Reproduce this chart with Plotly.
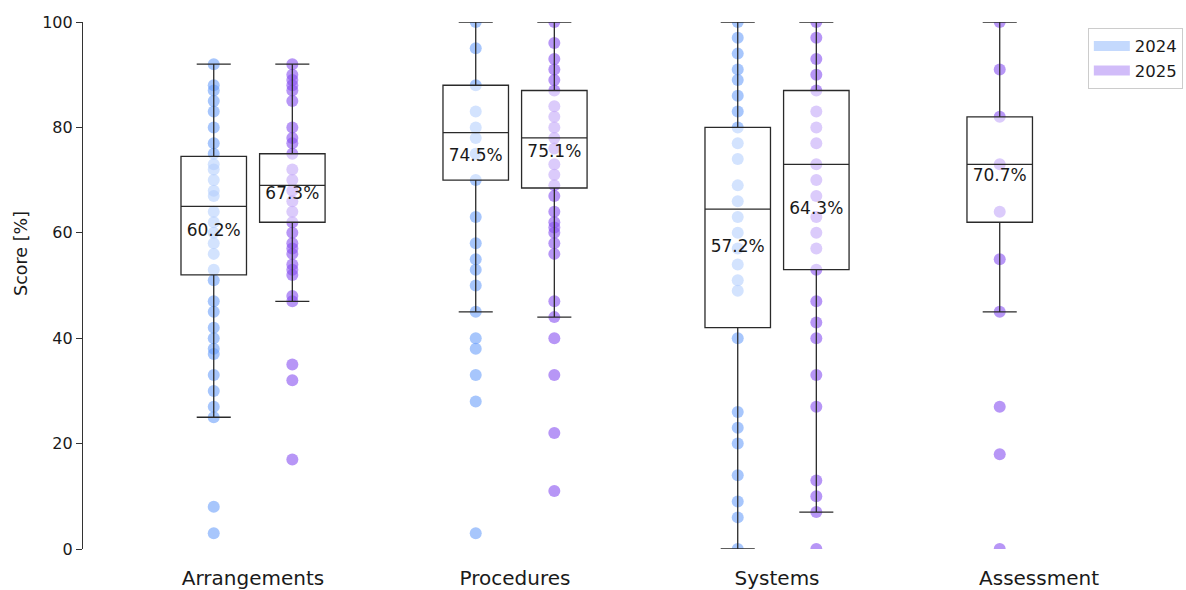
import plotly.graph_objects as go

# ---------------- data ----------------
categories = ["Arrangements", "Procedures", "Systems", "Assessment"]
years = ["2024", "2025"]

arrangements_2024 = [92, 88, 87, 85, 83, 80, 77, 75, 73, 72, 70, 68, 67, 64, 62, 60, 58, 56,
                     53, 51, 47, 45, 42, 40, 38, 37, 33, 30, 27, 25, 8, 3]
arrangements_2025 = [92, 90, 89, 88, 87, 85, 80, 78, 77, 75, 72, 70, 68, 66, 64, 62, 60, 58,
                     57, 56, 54, 53, 52, 48, 47, 35, 32, 17]
procedures_2024 = [100, 95, 88, 83, 80, 78, 75, 70, 63, 58, 55, 53, 50, 45, 40, 38, 33, 28, 3]
procedures_2025 = [100, 96, 93, 91, 89, 87, 84, 82, 80, 78, 76, 73, 71, 69, 67, 64, 62, 61,
                   60, 58, 56, 47, 44, 40, 33, 22, 11]
systems_2024 = [100, 97, 94, 91, 89, 86, 83, 80, 77, 74, 69, 66, 63, 60, 57, 54, 51, 49,
                40, 26, 23, 20, 14, 9, 6, 0]
systems_2025 = [100, 97, 93, 90, 87, 83, 80, 77, 73, 70, 67, 63, 60, 57, 53, 47, 43, 40,
                33, 27, 13, 10, 7, 0]
assessment_2025 = [100, 91, 82, 73, 64, 55, 45, 27, 18, 0]

# series order: A24, A25, P24, P25, S24, S25, As25
series_values = [arrangements_2024, arrangements_2025, procedures_2024, procedures_2025,
                 systems_2024, systems_2025, assessment_2025]
series_year = ["2024", "2025", "2024", "2025", "2024", "2025", "2025"]
series_category = [0, 0, 1, 1, 2, 2, 3]
series_slot = [-1, 1, -1, 1, -1, 1, -1]

# box statistics
lower_whisker = [25, 47, 45, 44, 0, 7, 45]
q1_values = [52, 62, 70, 68.5, 42, 53, 62]
median_values = [65, 69, 79, 78, 64.5, 73, 73]
q3_values = [74.5, 75, 88, 87, 80, 87, 82]
upper_whisker = [92, 92, 100, 100, 100, 100, 100]
mean_values = [60.2, 67.3, 74.5, 75.1, 57.2, 64.3, 70.7]

# ---------------- styling ----------------
point_color = {"2024": "rgba(100,155,250,0.57)", "2025": "rgba(135,80,240,0.6)"}
legend_color = {"2024": "rgba(100,155,250,0.38)", "2025": "rgba(135,80,240,0.38)"}
slot_offset = 0.15
box_width = 0.25
FONT = "DejaVu Sans"

positions = [c + s * slot_offset for c, s in zip(series_category, series_slot)]

fig = go.Figure()

for pos, vals, yr, lo, q1, med, q3, hi in zip(positions, series_values, series_year,
                                             lower_whisker, q1_values, median_values,
                                             q3_values, upper_whisker):
    # points (drawn first, under the box)
    fig.add_trace(go.Box(
        x=[pos] * len(vals), y=vals,
        boxpoints="all", jitter=0, pointpos=0,
        fillcolor="rgba(0,0,0,0)",
        line=dict(width=0, color="rgba(0,0,0,0)"),
        marker=dict(color=point_color[yr], size=12, line=dict(width=0)),
        width=box_width, showlegend=False, hoverinfo="y",
    ))
    # box with semi-transparent white fill on top
    fig.add_trace(go.Box(
        x=[pos], q1=[q1], median=[med], q3=[q3],
        lowerfence=[lo], upperfence=[hi],
        boxpoints=False,
        fillcolor="rgba(255,255,255,0.5)",
        line=dict(color="#2a2a2a", width=1.3),
        whiskerwidth=0.52, width=box_width,
        showlegend=False, hoverinfo="skip",
    ))

# mean labels
fig.add_trace(go.Scatter(
    x=positions, y=mean_values, mode="text",
    text=[f"{m:.1f}%" for m in mean_values],
    textposition="middle center",
    textfont=dict(family=FONT, size=17, color="#1a1a1a"),
    showlegend=False, hoverinfo="skip",
))

# legend entries
for yr in years:
    fig.add_trace(go.Scatter(
        x=[None], y=[None], mode="lines", name=yr,
        line=dict(color=legend_color[yr], width=11),
    ))

fig.update_layout(
    width=1186, height=590,
    margin=dict(l=83, r=0, t=22, b=41, autoexpand=False),
    paper_bgcolor="white", plot_bgcolor="white",
    boxmode="overlay",
    font=dict(family=FONT, color="#1a1a1a"),
    showlegend=True,
    legend=dict(x=0.911, y=0.989, xanchor="left", yanchor="top",
                bgcolor="white", bordercolor="#cccccc", borderwidth=1,
                font=dict(family=FONT, size=16.5, color="#1a1a1a"),
                itemwidth=36),
    xaxis=dict(range=[-0.649, 3.561], tickmode="array", tickvals=[0, 1, 2, 3],
               ticktext=categories, showline=False, showgrid=False, zeroline=False,
               ticks="", ticklabelstandoff=15,
               tickfont=dict(family=FONT, size=20, color="#1a1a1a")),
    yaxis=dict(range=[0, 100], tickmode="array", tickvals=[0, 20, 40, 60, 80, 100],
               showline=True, linecolor="#333333", linewidth=1.2,
               ticks="outside", ticklen=6, tickcolor="#333333", tickwidth=1.2,
               showgrid=False, zeroline=False,
               tickfont=dict(family=FONT, size=16, color="#1a1a1a")),
    annotations=[dict(text="Score [%]", textangle=-90, showarrow=False,
                      xref="paper", yref="paper", x=-0.0562, y=0.56,
                      xanchor="center", yanchor="middle",
                      font=dict(family=FONT, size=17.5, color="#1a1a1a"))],
)

fig.write_html("out.html",
               config={"displayModeBar": False},
               post_script="document.body.style.margin='0';document.body.style.overflow='hidden';")
